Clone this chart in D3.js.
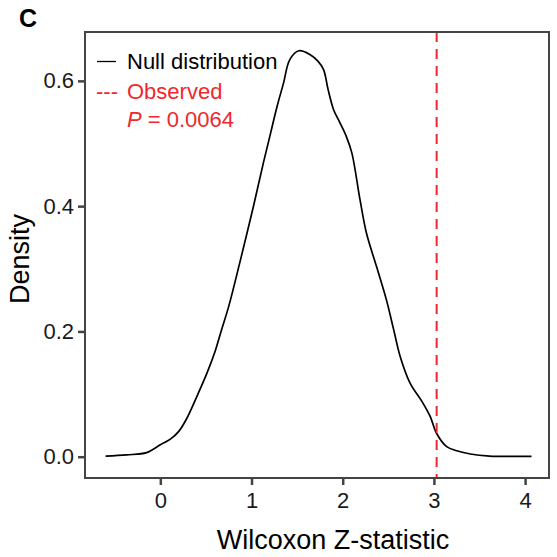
<!DOCTYPE html>
<html lang="en">
<head>
  <meta charset="UTF-8">
  <title>Null distribution of Wilcoxon Z-statistic</title>
  <script src="https://d3js.org/d3.v7.min.js"></script>
  <style>
    body {
      margin: 0;
      background: #fff;
      font-family: Arial, "Liberation Sans", sans-serif;
    }
  </style>
</head>
<body>
  <script>
    // Density curve of the null distribution
    const zValues = [-0.60, -0.37, -0.15, 0.00, 0.11, 0.20, 0.29, 0.40, 0.51, 0.60,
      0.67, 0.75, 0.87, 1.02, 1.13, 1.21, 1.28, 1.35, 1.42, 1.52,
      1.64, 1.73, 1.79, 1.84, 1.90, 1.97, 2.04, 2.10, 2.19, 2.26,
      2.37, 2.48, 2.56, 2.63, 2.74, 2.87, 2.96, 3.03, 3.14, 3.25,
      3.40, 3.61, 3.87, 4.07];
    const densityValues = [0.001, 0.003, 0.0065, 0.019, 0.028, 0.040, 0.061, 0.096, 0.133, 0.168,
      0.202, 0.240, 0.309, 0.399, 0.469, 0.517, 0.559, 0.596, 0.634, 0.648,
      0.642, 0.631, 0.618, 0.586, 0.554, 0.533, 0.511, 0.485, 0.410, 0.357,
      0.304, 0.250, 0.202, 0.160, 0.117, 0.088, 0.064, 0.037, 0.016, 0.0096,
      0.0043, 0.001, 0.0005, 0.0005];
    const observedZ = 3.03;
    const xTicks = [0, 1, 2, 3, 4];
    const yTicks = [0, 0.2, 0.4, 0.6];
    const legendLabels = ["Null distribution", "Observed"];
    const pValueText = "0.0064";

    const W = 557, H = 557;
    const panel = { left: 85, right: 549, top: 32, bottom: 478 };

    const svg = d3.select("body").append("svg")
      .attr("width", W)
      .attr("height", H);

    const x = d3.scaleLinear().domain([-0.826, 4.262]).range([panel.left, panel.right]);
    const y = d3.scaleLinear().domain([-0.034, 0.678]).range([panel.bottom, panel.top]);

    const axisColor = "#444";
    const red = "#f0282d";

    // panel label
    svg.append("text")
      .attr("x", 19).attr("y", 27)
      .style("font-size", "25px")
      .style("font-weight", "bold")
      .text("C");

    // density curve
    const points = zValues.map((z, i) => [z, densityValues[i]]);
    svg.append("path")
      .datum(points)
      .attr("fill", "none")
      .attr("stroke", "#000")
      .attr("stroke-width", 1.7)
      .attr("d", d3.line().x(d => x(d[0])).y(d => y(d[1])).curve(d3.curveCatmullRom));

    // observed value
    svg.append("line")
      .attr("x1", x(observedZ)).attr("x2", x(observedZ))
      .attr("y1", panel.top).attr("y2", panel.bottom)
      .attr("stroke", red)
      .attr("stroke-width", 2)
      .attr("stroke-dasharray", "10,7");

    // panel border
    svg.append("rect")
      .attr("x", panel.left).attr("y", panel.top)
      .attr("width", panel.right - panel.left)
      .attr("height", panel.bottom - panel.top)
      .attr("fill", "none")
      .attr("stroke", axisColor)
      .attr("stroke-width", 2);

    // axes
    const xAxis = svg.append("g")
      .attr("transform", `translate(0,${panel.bottom + 1})`)
      .call(d3.axisBottom(x).tickValues(xTicks).tickFormat(d3.format("d")).tickSize(6).tickPadding(7));
    const yAxis = svg.append("g")
      .attr("transform", `translate(${panel.left - 1},0)`)
      .call(d3.axisLeft(y).tickValues(yTicks).tickFormat(d3.format(".1f")).tickSize(6).tickPadding(4));

    [xAxis, yAxis].forEach(g => {
      g.select(".domain").remove();
      g.selectAll(".tick line").attr("stroke", axisColor).attr("stroke-width", 2.5);
      g.selectAll(".tick text")
        .attr("fill", "#1a1a1a")
        .style("font-size", "22px")
        .style("font-family", "Arial, 'Liberation Sans', sans-serif");
    });

    // axis titles
    svg.append("text")
      .attr("x", (panel.left + panel.right) / 2 + 16)
      .attr("y", 549)
      .attr("text-anchor", "middle")
      .style("font-size", "27px")
      .text("Wilcoxon Z-statistic");

    svg.append("text")
      .attr("transform", `translate(29,${(panel.top + panel.bottom) / 2 + 4}) rotate(-90)`)
      .attr("text-anchor", "middle")
      .style("font-size", "27px")
      .text("Density");

    // legend
    const legend = svg.append("g").style("font-size", "22px");
    legend.append("line")
      .attr("x1", 97).attr("x2", 116)
      .attr("y1", 61.5).attr("y2", 61.5)
      .attr("stroke", "#000").attr("stroke-width", 1.3);
    legend.append("text")
      .attr("x", 127).attr("y", 69)
      .text(legendLabels[0]);
    legend.append("text")
      .attr("x", 96).attr("y", 99)
      .attr("fill", red)
      .text("---");
    legend.append("text")
      .attr("x", 127).attr("y", 99)
      .attr("fill", red)
      .text(legendLabels[1]);
    const pText = legend.append("text")
      .attr("x", 127).attr("y", 127)
      .attr("fill", red);
    pText.append("tspan").style("font-style", "italic").text("P");
    pText.append("tspan").text(" = " + pValueText);
  </script>
</body>
</html>
